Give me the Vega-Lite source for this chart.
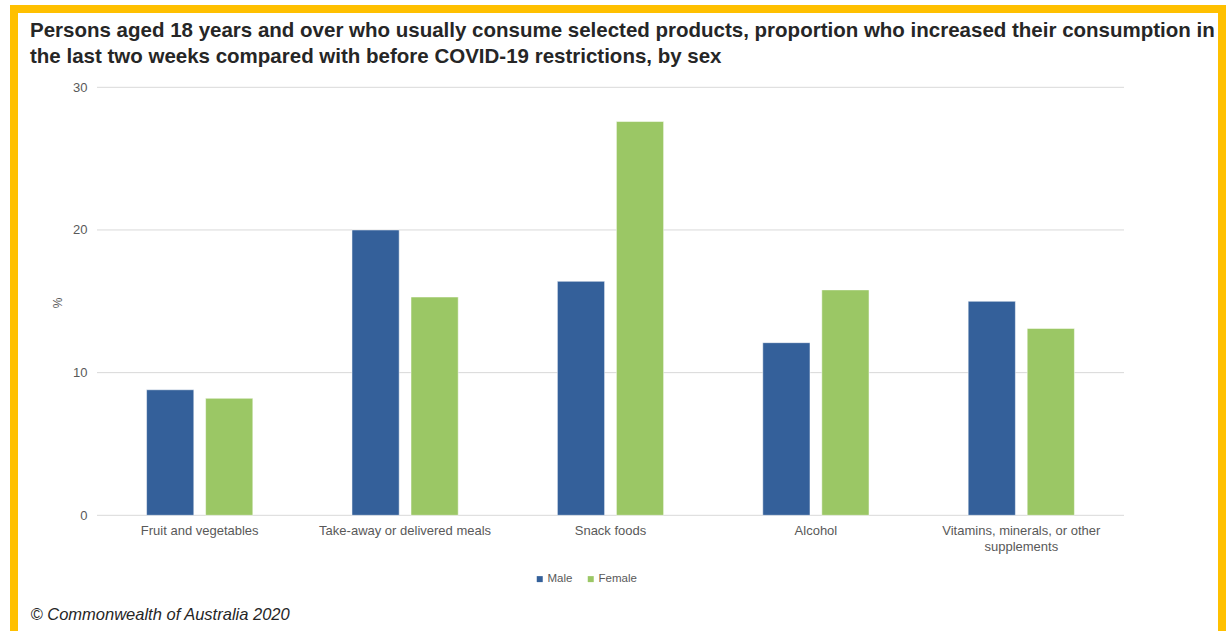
{
  "$schema": "https://vega.github.io/schema/vega-lite/v6.json",
  "width": 1208,
  "height": 651,
  "autosize": {"type": "none"},
  "padding": {"left": 14, "top": 9, "right": 4, "bottom": -29},
  "background": "white",
  "config": {
    "font": "Liberation Sans",
    "view": {"stroke": "#FFC000", "strokeWidth": 8, "fill": "white"}
  },
  "title": {
    "text": [
      "Persons aged 18 years and over who usually consume selected products, proportion who increased their consumption in",
      "the last two weeks compared with before COVID-19 restrictions, by sex"
    ],
    "anchor": "start",
    "frame": "group",
    "font": "Liberation Sans",
    "fontSize": 20.5,
    "fontWeight": "bold",
    "color": "#262626",
    "lineHeight": 26,
    "offset": 0,
    "dx": 16,
    "dy": 58
  },
  "layer": [
    {
      "data": {"values": [{"g": 0}, {"g": 10}, {"g": 20}, {"g": 30}]},
      "mark": {"type": "rule", "color": "#D9D9D9", "strokeWidth": 1},
      "encoding": {
        "y": {"field": "g", "type": "quantitative", "title": "%"},
        "x": {"datum": "Fruit and vegetables", "type": "nominal", "bandPosition": 0, "title": "© Commonwealth of Australia 2020"},
        "x2": {"datum": "Vitamins, minerals, or other supplements", "bandPosition": 1}
      }
    },
    {
      "data": {
        "values": [
          {"product": "Fruit and vegetables", "sex": "Male", "value": 8.8},
          {"product": "Fruit and vegetables", "sex": "Female", "value": 8.2},
          {"product": "Take-away or delivered meals", "sex": "Male", "value": 20.0},
          {"product": "Take-away or delivered meals", "sex": "Female", "value": 15.3},
          {"product": "Snack foods", "sex": "Male", "value": 16.4},
          {"product": "Snack foods", "sex": "Female", "value": 27.6},
          {"product": "Alcohol", "sex": "Male", "value": 12.1},
          {"product": "Alcohol", "sex": "Female", "value": 15.8},
          {"product": "Vitamins, minerals, or other supplements", "sex": "Male", "value": 15.0},
          {"product": "Vitamins, minerals, or other supplements", "sex": "Female", "value": 13.1}
        ]
      },
      "mark": {"type": "bar", "stroke": "white", "strokeWidth": 1, "strokeOpacity": 0.5},
      "encoding": {
        "x": {
          "field": "product",
          "type": "nominal",
          "scale": {
            "domain": ["Fruit and vegetables", "Take-away or delivered meals", "Snack foods", "Alcohol", "Vitamins, minerals, or other supplements"],
            "range": [83, 1110],
            "paddingInner": 0,
            "paddingOuter": 0
          },
          "axis": {
            "title": "© Commonwealth of Australia 2020",
            "orient": "bottom",
            "offset": -144.7,
            "domain": false,
            "ticks": false,
            "grid": false,
            "labelAngle": 0,
            "labelAlign": "center",
            "labelBaseline": "top",
            "labelPadding": 9,
            "labelFontSize": 13,
            "labelColor": "#595959",
            "labelLimit": 0,
            "labelOverlap": false,
            "labelFlush": false,
            "labelLineHeight": 16,
            "labelExpr": "datum.value == 'Vitamins, minerals, or other supplements' ? ['Vitamins, minerals, or other', 'supplements'] : datum.label",
            "titleX": 16,
            "titleY": 99,
            "titleAlign": "left",
            "titleAnchor": "start",
            "titleBaseline": "middle",
            "titleFontSize": 16.5,
            "titleFontStyle": "italic",
            "titleFontWeight": "normal",
            "titleColor": "#262626"
          }
        },
        "xOffset": {
          "field": "sex",
          "type": "nominal",
          "scale": {"domain": ["Male", "Female"], "paddingInner": 0.2, "paddingOuter": 0.84}
        },
        "y": {
          "field": "value",
          "type": "quantitative",
          "scale": {"domain": [0, 30], "range": [506.3, 78.3], "nice": false},
          "axis": {
            "title": "%",
            "orient": "left",
            "offset": -83,
            "grid": false,
            "domain": false,
            "ticks": false,
            "values": [0, 10, 20, 30],
            "labelPadding": 10,
            "labelFontSize": 13,
            "labelColor": "#595959",
            "titleX": -39.5,
            "titleY": 293.5,
            "titleAngle": 270,
            "titleAlign": "center",
            "titleBaseline": "middle",
            "titleFontSize": 12,
            "titleFontWeight": "normal",
            "titleColor": "#595959"
          }
        },
        "color": {
          "field": "sex",
          "type": "nominal",
          "scale": {"domain": ["Male", "Female"], "range": ["#34609A", "#9BC765"]},
          "legend": {
            "title": null,
            "orient": "none",
            "legendX": 520,
            "legendY": 564,
            "direction": "horizontal",
            "symbolType": "square",
            "symbolSize": 36,
            "symbolStrokeWidth": 0,
            "labelFontSize": 11.5,
            "labelColor": "#595959",
            "labelOffset": 2,
            "columnPadding": 12,
            "padding": 0
          }
        }
      }
    }
  ]
}
